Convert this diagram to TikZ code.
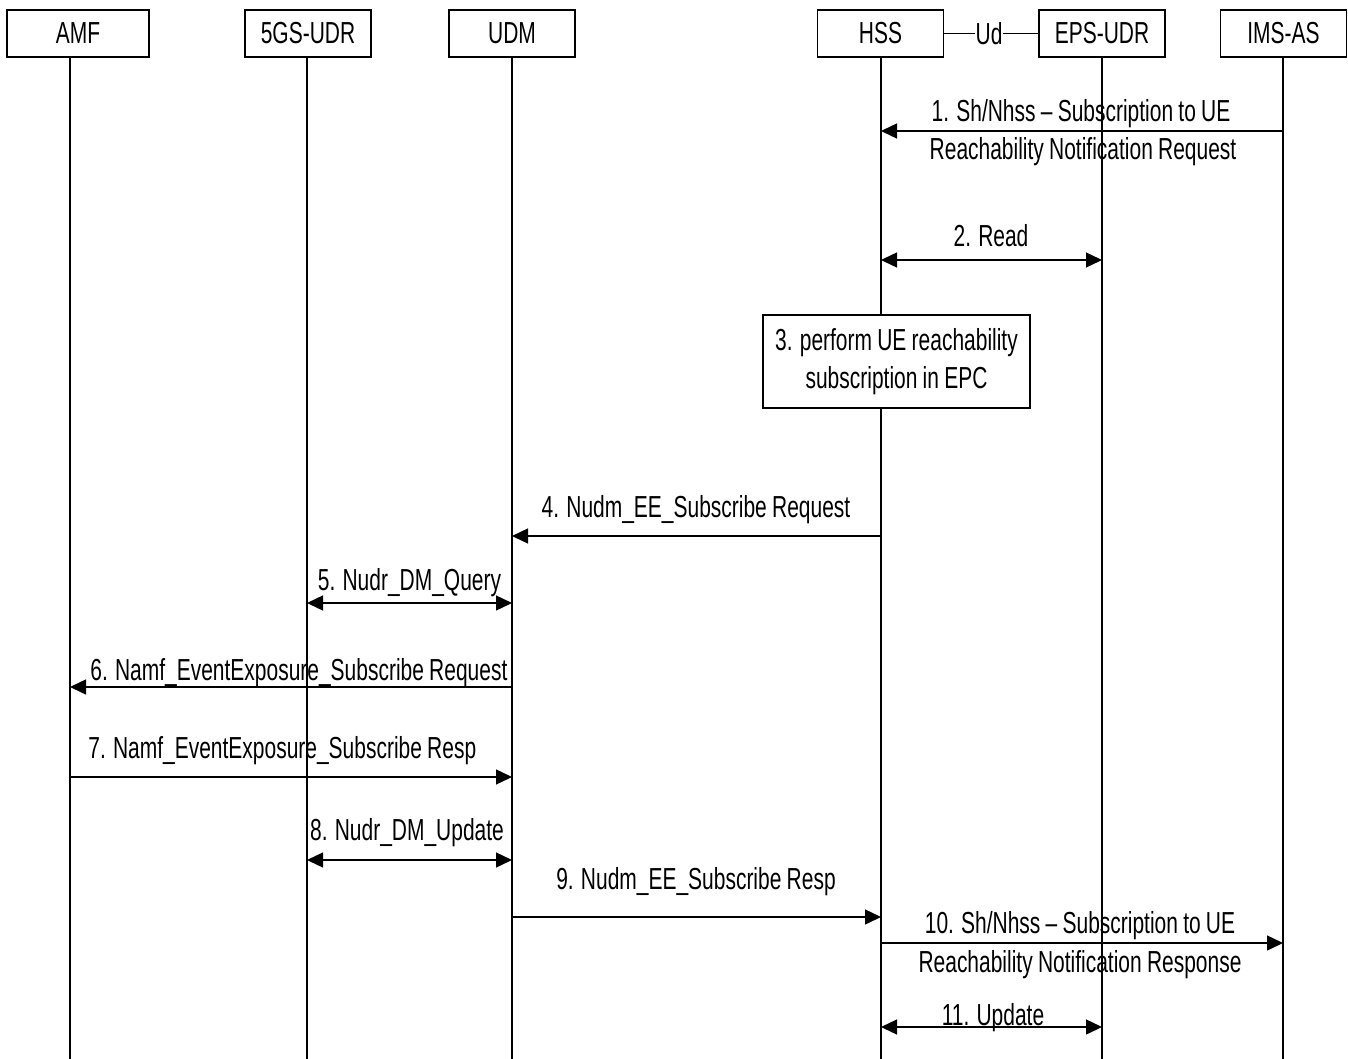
\documentclass[tikz,border=0pt]{standalone}
\usepackage{fontspec}
\setmainfont{Liberation Sans}[FakeStretch=0.69,WordSpace=0.9]
\usetikzlibrary{arrows.meta}
\begin{document}
\begin{tikzpicture}[x=0.5pt,y=-0.5pt,
  font=\fontsize{15.2pt}{19pt}\selectfont,
  actor/.style={draw,line width=0.75pt,minimum width=63pt,minimum height=23.5pt,inner sep=0pt},
  life/.style={line width=0.7pt},
  msg/.style={line width=0.7pt,-{Triangle[length=8pt,width=7.5pt]}},
  dmsg/.style={line width=0.7pt,{Triangle[length=8pt,width=7.5pt]}-{Triangle[length=8pt,width=7.5pt]}},
  lbl/.style={inner sep=0pt,anchor=base},
  lblw/.style={inner sep=0pt,anchor=base west},
  actbox/.style={draw,fill=white,line width=0.8pt,minimum width=133.5pt,minimum height=46.5pt,inner sep=0pt,align=center}]
\useasboundingbox (0,0) rectangle (1348,1059);
\fill[white] (0,0) rectangle (1348,1059);

% header boxes
\node[actor,minimum width=71pt] (amf) at (78,33.5) {AMF};
\node[actor] (udr5) at (308,33.5) {5GS-UDR};
\node[actor] (udm) at (512,33.5) {UDM};
\node[actor] (hss) at (880.5,33.5) {HSS};
\node[actor] (udreps) at (1102,33.5) {EPS-UDR};
\node[actor] (imsas) at (1283.5,33.5) {IMS-AS};
\node[inner sep=0pt] (ud) at (989,33.5) {Ud};
\draw[line width=0.7pt] (hss.east) -- (ud.west);
\draw[line width=0.7pt] (ud.east) -- (udreps.west);

% lifelines
\coordinate (amfT) at (70,57);    \coordinate (amfB) at (70,1059);
\coordinate (udr5T) at (307,57);  \coordinate (udr5B) at (307,1059);
\coordinate (udmT) at (512,57);   \coordinate (udmB) at (512,1059);
\coordinate (hssT) at (881,57);   \coordinate (hssB) at (881,1059);
\coordinate (epsT) at (1102,57);  \coordinate (epsB) at (1102,1059);
\coordinate (imsT) at (1283,57);  \coordinate (imsB) at (1283,1059);
\draw[life] (amfT) -- (amfB);
\draw[life] (udr5T) -- (udr5B);
\draw[life] (udmT) -- (udmB);
\draw[life] (hssT) -- (hssB);
\draw[life,line width=1.1pt] (epsT) -- (epsB);
\draw[life] (imsT) -- (imsB);

% message rows
\coordinate (m1) at (0,131);
\coordinate (m2) at (0,260);
\coordinate (m4) at (0,536);
\coordinate (m5) at (0,603);
\coordinate (m6) at (0,687);
\coordinate (m7) at (0,777);
\coordinate (m8) at (0,860);
\coordinate (m9) at (0,917);
\coordinate (m10) at (0,943);
\coordinate (m11) at (0,1027);

% 1
\draw[msg] (imsB |- m1) -- (hssB |- m1);
\node[lbl] (l1a) at (1081,122) {1. Sh/Nhss – Subscription to UE};
\node[lbl] (l1b) at (1083,160) {Reachability Notification Request};
% 2
\draw[dmsg] (hssB |- m2) -- (epsB |- m2);
\node[lbl] (l2) at (991,247) {2. Read};
% 3
\node[actbox] (b3) at (896.5,361.5) {3. perform UE reachability\\subscription in EPC};
% 4
\draw[msg] (hssB |- m4) -- (udmB |- m4);
\node[lbl] (l4) at (696,517) {4. Nudm\_EE\_Subscribe Request};
% 5
\draw[dmsg] (udr5B |- m5) -- (udmB |- m5);
\node[lbl] (l5) at (409.5,590) {5. Nudr\_DM\_Query};
% 6
\draw[msg] (udmB |- m6) -- (amfB |- m6);
\node[lblw] (l6) at (90,680) {6. Namf\_EventExposure\_Subscribe Request};
% 7
\draw[msg] (amfB |- m7) -- (udmB |- m7);
\node[lblw] (l7) at (88,758) {7. Namf\_EventExposure\_Subscribe Resp};
% 8
\draw[dmsg] (udr5B |- m8) -- (udmB |- m8);
\node[lbl] (l8) at (407,840) {8. Nudr\_DM\_Update};
% 9
\draw[msg] (udmB |- m9) -- (hssB |- m9);
\node[lbl] (l9) at (696,889) {9. Nudm\_EE\_Subscribe Resp};
% 10
\draw[msg] (hssB |- m10) -- (imsB |- m10);
\node[lbl] (l10a) at (1080,933) {10. Sh/Nhss – Subscription to UE};
\node[lbl] (l10b) at (1080,972) {Reachability Notification Response};
% 11
\draw[dmsg] (hssB |- m11) -- (epsB |- m11);
\node[lbl] (l11) at (993,1025) {11. Update};
\end{tikzpicture}
\end{document}
